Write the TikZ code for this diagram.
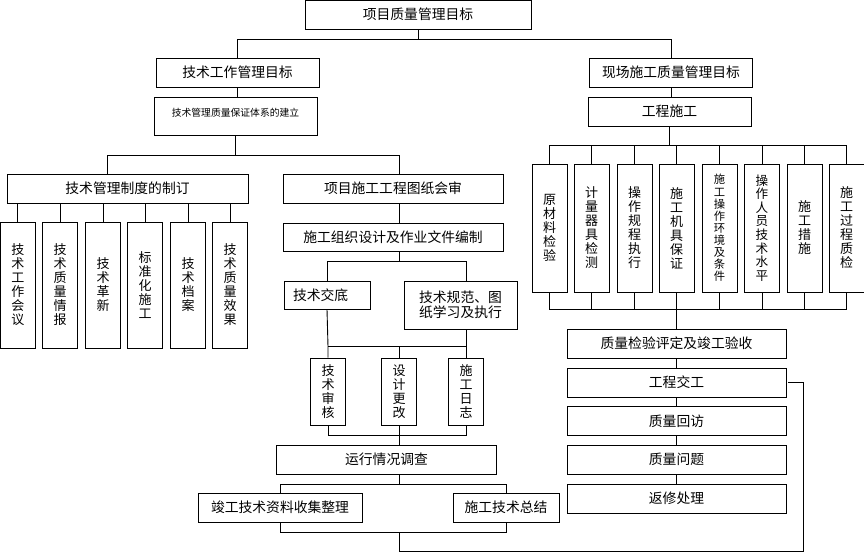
\documentclass[tikz,border=0pt]{standalone}
\usepackage{fontspec}
\setmainfont{Noto Sans CJK SC}
\newcommand\vtext[2][14pt]{\vbox{\baselineskip=#1\relax\lineskiplimit=-100pt\relax\halign{\hfil##\hfil\cr#2\crcr}}}

\tikzset{
  blk/.style={draw, line width=0.9pt, inner sep=0pt, align=center, font=\fontsize{13.8}{14}\selectfont},
  hblk/.style={blk, minimum width=163pt, minimum height=29pt},
  vblk/.style={blk, minimum width=35pt, font=\fontsize{13}{14}\selectfont},
  wire/.style={line width=0.9pt},
}

\begin{document}
\begin{tikzpicture}[x=1pt,y=-1pt]
\useasboundingbox (0,0) rectangle (864,552);

\node[blk, minimum width=226pt, minimum height=29pt] (goal) at (418,14.5) {项目质量管理目标};
\node[hblk] (tech) at (237.5,72.5) {技术工作管理目标};
\node[hblk] (site) at (671,72.5) {现场施工质量管理目标};
\draw[wire] (goal.south) -- ++(0,10) coordinate (gb);
\draw[wire] (tech.north) |- (gb) -| (site.north);

% left branch
\node[hblk, minimum height=38pt, text depth=7pt, font=\fontsize{9.8}{11}\selectfont] (sys) at (235.5,116) {技术管理质量保证体系的建立};
\draw[wire] (tech.south) -- (tech.south |- sys.north);
\node[blk, minimum width=241pt, minimum height=29pt] (rules) at (127.5,188.5) {技术管理制度的制订};
\node[blk, minimum width=220pt, minimum height=29pt] (review) at (393,188.5) {项目施工工程图纸会审};

\node[vblk, minimum height=126pt] (l1) at (17.8,285) {\vtext{技\cr 术\cr 工\cr 作\cr 会\cr 议}};
\node[vblk, minimum height=126pt] (l2) at (60,285) {\vtext{技\cr 术\cr 质\cr 量\cr 情\cr 报}};
\node[vblk, minimum height=126pt] (l3) at (103,285) {\vtext{技\cr 术\cr 革\cr 新}};
\node[vblk, minimum height=126pt] (l4) at (145,285) {\vtext{标\cr 准\cr 化\cr 施\cr 工}};
\node[vblk, minimum height=126pt] (l5) at (188,285) {\vtext{技\cr 术\cr 档\cr 案}};
\node[vblk, minimum height=126pt] (l6) at (230,285) {\vtext{技\cr 术\cr 质\cr 量\cr 效\cr 果}};
\draw[wire] (l1.north) -- (l1.north |- rules.south) (l2.north) -- (l2.north |- rules.south)
  (l3.north) -- (l3.north |- rules.south) (l4.north) -- (l4.north |- rules.south)
  (l5.north) -- (l5.north |- rules.south) (l6.north) -- (l6.north |- rules.south);

\node[blk, minimum width=220pt, minimum height=28pt] (design) at (393,237) {施工组织设计及作业文件编制};
\node[blk, minimum width=86pt, minimum height=28pt, text width=68pt, align=left] (brief) at (327,295) {技术交底};
\node[blk, minimum width=113pt, minimum height=48pt, align=left] (norm) at (460.5,305) {\vtext[15pt]{技术规范、图\cr 纸学习及执行}};
\node[vblk, minimum height=67pt] (audit) at (328,391.5) {\vtext{技\cr 术\cr 审\cr 核}};
\node[vblk, minimum height=67pt] (change) at (399,391.5) {\vtext{设\cr 计\cr 更\cr 改}};
\node[vblk, minimum height=67pt] (log) at (466,391.5) {\vtext{施\cr 工\cr 日\cr 志}};
\draw[wire] (sys.south) -- ++(0,20) coordinate (sb);
\draw[wire] ([xshift=-20pt]rules.north) |- (sb) -| (review.north -| change.north);
\draw[wire] (review.south -| change.north) -- (design.north -| change.north);
\draw[wire] (design.south -| change.north) -- ++(0,10) coordinate (db);
\draw[wire] (brief.north) |- (db) -| (norm.north -| log.north);
\draw[wire] (brief.south) -- ([yshift=11pt]audit.north) coordinate (mb) -- (audit.north);
\draw[wire] (mb) -- (mb -| log.north) -- (log.north);
\draw[wire] (norm.south -| log.north) -- (mb -| log.north);
\draw[wire] (change.north) -- (change.north |- mb);

\node[blk, minimum width=220pt, minimum height=29pt] (survey) at (386.5,459.5) {运行情况调查};
\draw[wire] (audit.south) -- ++(0,10) coordinate (ab) -- (ab -| log.south) -- (log.south);
\draw[wire] (change.south) -- (survey.north -| change.south);
\node[blk, minimum width=164pt, minimum height=29pt] (archive) at (280,507.5) {竣工技术资料收集整理};
\node[blk, minimum width=106pt, minimum height=29pt] (summary) at (506,507.5) {施工技术总结};
\draw[wire] (survey.south -| change.south) -- ++(0,10) coordinate (vb);
\draw[wire] (archive.north) |- (vb) -| (summary.north);
\draw[wire] (archive.south) -- ++(0,10) coordinate (eb) -- (eb -| summary.south) -- (summary.south);

% right branch
\node[hblk] (constr) at (669.5,111.5) {工程施工};
\draw[wire] (site.south) -- (site.south |- constr.north);
\node[vblk, minimum height=128pt] (r1) at (549.5,228) {\vtext{原\cr 材\cr 料\cr 检\cr 验}};
\node[vblk, minimum height=128pt] (r2) at (591.5,228) {\vtext{计\cr 量\cr 器\cr 具\cr 检\cr 测}};
\node[vblk, minimum height=128pt] (r3) at (634.5,228) {\vtext{操\cr 作\cr 规\cr 程\cr 执\cr 行}};
\node[vblk, minimum height=128pt] (r4) at (676.5,228) {\vtext{施\cr 工\cr 机\cr 具\cr 保\cr 证}};
\node[vblk, minimum height=128pt, font=\fontsize{11.3}{12}\selectfont] (r5) at (719.5,228) {\vtext[12.1pt]{施\cr 工\cr 操\cr 作\cr 环\cr 境\cr 及\cr 条\cr 件}};
\node[vblk, minimum height=128pt, font=\fontsize{12.6}{13}\selectfont] (r6) at (762,228) {\vtext[13.6pt]{操\cr 作\cr 人\cr 员\cr 技\cr 术\cr 水\cr 平}};
\node[vblk, minimum height=128pt] (r7) at (804.5,228) {\vtext{施\cr 工\cr 措\cr 施}};
\node[vblk, minimum height=128pt] (r8) at (846.5,228) {\vtext{施\cr 工\cr 过\cr 程\cr 质\cr 检}};
\draw[wire] (constr.south) -- ++(0,19) coordinate (cb);
\draw[wire] (r1.north) |- (cb) -| (r8.north);
\draw[wire] (r2.north) -- (r2.north |- cb) (r3.north) -- (r3.north |- cb)
  (r4.north) -- (r4.north |- cb) (r5.north) -- (r5.north |- cb)
  (r6.north) -- (r6.north |- cb) (r7.north) -- (r7.north |- cb);
\draw[wire] (r1.south) -- ++(0,17) coordinate (rb) -| (r8.south);
\draw[wire] (r2.south) -- (r2.south |- rb) (r3.south) -- (r3.south |- rb)
  (r4.south) -- (r4.south |- rb) (r5.south) -- (r5.south |- rb)
  (r6.south) -- (r6.south |- rb) (r7.south) -- (r7.south |- rb);

\node[blk, minimum width=219pt, minimum height=29pt] (accept) at (676.5,343.5) {质量检验评定及竣工验收};
\node[blk, minimum width=219pt, minimum height=29pt] (handover) at (676.5,382.5) {工程交工};
\node[blk, minimum width=219pt, minimum height=29pt] (revisit) at (676.5,421) {质量回访};
\node[blk, minimum width=219pt, minimum height=29pt] (problem) at (676.5,459.5) {质量问题};
\node[blk, minimum width=219pt, minimum height=29pt] (repair) at (676.5,498.5) {返修处理};
\draw[wire] (accept.north) -- (accept.north |- rb);
\draw[wire] (accept) -- (handover) (handover) -- (revisit) (revisit) -- (problem) (problem) -- (repair);
\draw[wire] (eb -| change.south) -- ++(0,19) -| ([xshift=17pt]handover.east) -- ([xshift=2pt]handover.east);
\end{tikzpicture}
\end{document}
